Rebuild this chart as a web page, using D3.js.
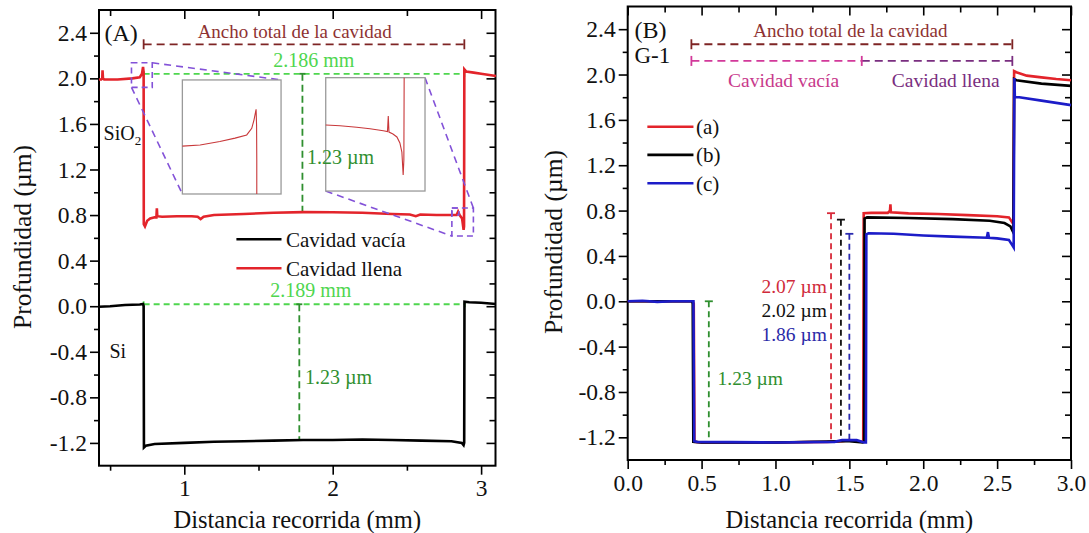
<!DOCTYPE html>
<html><head><meta charset="utf-8">
<script src="https://cdn.jsdelivr.net/npm/d3@7"></script>
<style>
body{margin:0;background:#fff}
svg text{font-family:"Liberation Serif",serif !important}
</style></head>
<body><svg id="c" width="1089" height="533"></svg>
<script>
// ---------------- DATA ----------------
// Panel A : Cavidad llena (red) and Cavidad vacía (black)
const distA_llena = [0.425,0.44,0.447,0.449,0.452,0.46,0.55,0.65,0.70,0.715,0.722,0.726,0.727,0.735,0.75,0.77,0.80,0.812,0.815,0.818,0.85,0.95,1.05,1.09,1.11,1.13,1.2,1.4,1.6,1.8,2.0,2.2,2.4,2.52,2.56,2.59,2.7,2.8,2.835,2.845,2.855,2.872,2.882,2.885,2.887,2.90,2.95,3.0,3.1];
const profA_llena = [1.99,1.99,2.00,2.07,2.00,1.99,1.99,2.00,2.01,2.04,2.10,2.05,0.72,0.70,0.75,0.77,0.78,0.78,0.86,0.79,0.785,0.79,0.79,0.785,0.765,0.785,0.80,0.81,0.82,0.826,0.825,0.82,0.81,0.805,0.79,0.805,0.80,0.80,0.80,0.83,0.80,0.77,0.67,0.70,2.08,2.06,2.05,2.04,2.02];
const distA_vacia = [0.425,0.5,0.6,0.7,0.722,0.726,0.728,0.74,0.8,1.0,1.2,1.4,1.6,1.8,2.0,2.2,2.4,2.6,2.8,2.87,2.882,2.886,2.888,2.92,3.0,3.1];
const profA_vacia = [-0.005,0.0,0.01,0.015,0.02,0.0,-1.24,-1.225,-1.21,-1.20,-1.19,-1.185,-1.18,-1.175,-1.175,-1.17,-1.175,-1.18,-1.185,-1.20,-1.22,-1.20,0.04,0.035,0.03,0.02];
// Insets (normalised zoom of the corners of the red curve)
const inset1X = [0,0.18,0.38,0.534,0.652,0.703,0.726,0.747,0.752,0.754,0.754];
const inset1Y = [0.42,0.43,0.46,0.49,0.518,0.576,0.65,0.743,0.60,0.3,0.0];
const inset2X = [0,0.144,0.312,0.446,0.58,0.622,0.63,0.637,0.677,0.717,0.747,0.767,0.78,0.787,0.79];
const inset2Y = [0.583,0.576,0.562,0.55,0.532,0.525,0.662,0.52,0.503,0.477,0.424,0.344,0.141,0.274,1.0];

// Panel B : series (a) red, (b) black, (c) blue
const distB_a = [0,0.2,0.44,0.447,0.452,0.5,1.0,1.35,1.45,1.5,1.55,1.59,1.594,1.597,1.65,1.76,1.775,1.778,1.781,1.9,2.1,2.3,2.5,2.58,2.6,2.61,2.615,2.63,2.7,2.8,2.9,3.0];
const profB_a = [0,0,0,-0.02,-1.24,-1.245,-1.245,-1.24,-1.235,-1.225,-1.235,-1.24,-1.23,0.777,0.78,0.78,0.80,0.855,0.785,0.775,0.77,0.76,0.75,0.74,0.70,0.72,2.03,2.02,1.99,1.975,1.96,1.95];
const distB_b = [0,0.2,0.435,0.44,0.444,0.5,1.0,1.44,1.5,1.59,1.6,1.603,1.62,1.9,2.2,2.45,2.55,2.59,2.605,2.61,2.615,2.63,2.8,3.0];
const profB_b = [0,0,0,-0.02,-1.24,-1.245,-1.245,-1.235,-1.235,-1.245,-1.24,0.73,0.74,0.735,0.725,0.71,0.69,0.66,0.62,0.65,1.96,1.95,1.92,1.90];
const distB_c = [0,0.1,0.2,0.3,0.445,0.45,0.47,1.0,1.4,1.45,1.55,1.6,1.612,1.615,1.63,1.8,2.0,2.2,2.43,2.438,2.445,2.5,2.58,2.6,2.612,2.617,2.62,2.65,2.8,3.0];
const profB_c = [0,0.005,-0.005,0,0,-1.235,-1.24,-1.245,-1.24,-1.225,-1.225,-1.245,-1.245,0.59,0.60,0.595,0.58,0.57,0.56,0.61,0.56,0.555,0.54,0.50,0.475,1.97,1.80,1.80,1.77,1.73];

// Step heights in panel B (x position, top value)
const stepB_x = [0.549,1.376,1.443,1.50];
const stepB_top = [0.0,0.777,0.72,0.595];
const stepB_labels = ["1.23 µm","2.07 µm","2.02 µm","1.86 µm"];

// Ticks
const yMajor = [-1.2,-0.8,-0.4,0,0.4,0.8,1.2,1.6,2.0,2.4];
const yMinor = [-1.0,-0.6,-0.2,0.2,0.6,1.0,1.4,1.8,2.2];
const yLabels = ["-1.2","-0.8","-0.4","0.0","0.4","0.8","1.2","1.6","2.0","2.4"];
const xMajorA = [1,2,3], xMinorA = [0.5,1.5,2.5], xLabelsA = ["1","2","3"];
const xMajorB = [0,0.5,1,1.5,2,2.5,3], xMinorB = [0.25,0.75,1.25,1.75,2.25,2.75];
const xLabelsB = ["0.0","0.5","1.0","1.5","2.0","2.5","3.0"];

// ---------------- DRAW ----------------
const svg = d3.select("#c");
const FONT = "'Liberation Serif', serif";
const zip = (xs, ys) => xs.map((v,i)=>[v, ys[i]]);

function panel(o){
  const x = d3.scaleLinear().domain(o.xDomain).range([o.left,o.right]);
  const y = d3.scaleLinear().domain([-1.4,2.6]).range([o.bottom,o.top]);
  const g = svg.append("g");
  const ax = (gen, tr) => {
    const a = g.append("g").attr("transform",tr).call(gen);
    a.attr("font-family",null);
    a.select(".domain").remove();
    a.selectAll("line").attr("stroke","#000").attr("stroke-width",1.6);
    a.selectAll("text").style("font-family",FONT).style("font-size","23.5px").attr("fill","#111");
    return a;
  };
  ax(d3.axisBottom(x).tickValues(o.xMajor).tickFormat((d,i)=>o.xLabels[i]).tickSize(9).tickPadding(5), `translate(0,${o.bottom})`);
  ax(d3.axisBottom(x).tickValues(o.xMinor).tickFormat("").tickSize(5), `translate(0,${o.bottom})`);
  ax(d3.axisTop(x).tickValues(o.xMajor).tickFormat("").tickSize(-9), `translate(0,${o.top})`);
  ax(d3.axisTop(x).tickValues(o.xMinor).tickFormat("").tickSize(-6), `translate(0,${o.top})`);
  ax(d3.axisLeft(y).tickValues(yMajor).tickFormat((d,i)=>yLabels[i]).tickSize(9).tickPadding(3), `translate(${o.left},0)`);
  ax(d3.axisLeft(y).tickValues(yMinor).tickFormat("").tickSize(5), `translate(${o.left},0)`);
  ax(d3.axisRight(y).tickValues(yMajor).tickFormat("").tickSize(-9), `translate(${o.right},0)`);
  ax(d3.axisRight(y).tickValues(yMinor).tickFormat("").tickSize(-6), `translate(${o.right},0)`);
  g.append("rect").attr("x",o.left).attr("y",o.top).attr("width",o.right-o.left).attr("height",o.bottom-o.top)
    .attr("fill","none").attr("stroke","#000").attr("stroke-width",2);
  txt(g,(o.left+o.right)/2,519,"Distancia recorrida (mm)",24.5,"#111","middle");
  g.append("text").attr("transform",`translate(${o.ytX},${o.ytY}) rotate(-90)`).attr("dy","0.35em").attr("text-anchor","middle")
    .style("font-family",FONT).style("font-size","25.5px").attr("fill","#111").text("Profundidad (µm)");
  return {x,y,g};
}

function txt(g, x, y, s, size, fill, anchor){
  return g.append("text").attr("x",x).attr("y",y).attr("dy","0.35em").attr("text-anchor",anchor||"start")
    .style("font-family",FONT).style("font-size",size+"px").attr("fill",fill).text(s);
}
function dline(g, x1,y1,x2,y2, color, w, dash){
  return g.append("line").attr("x1",x1).attr("y1",y1).attr("x2",x2).attr("y2",y2)
    .attr("stroke",color).attr("stroke-width",w).attr("stroke-dasharray",dash||null);
}
function hDim(g, X, Y, x0, x1, yv, color, dash, capH){
  dline(g, X(x0),Y(yv),X(x1),Y(yv),color,1.8,dash);
  dline(g, X(x0),Y(yv)-capH,X(x0),Y(yv)+capH,color,1.8);
  dline(g, X(x1),Y(yv)-capH,X(x1),Y(yv)+capH,color,1.8);
}
function vDim(g, X, Y, xv, y0, y1, color, dash, capW){
  dline(g, X(xv),Y(y0),X(xv),Y(y1),color,1.8,dash);
  dline(g, X(xv)-capW,Y(y0),X(xv)+capW,Y(y0),color,1.8);
}

// ===== Panel A =====
const A = panel({left:99,right:495.5,top:10,bottom:465.7,xDomain:[0.4252,3.097],
  xMajor:xMajorA,xMinor:xMinorA,xLabels:xLabelsA,ytX:22,ytY:237});
const lineA = d3.line().x(d=>A.x(d[0])).y(d=>A.y(d[1]));
const GREEN_L = "#4fd64f", GREEN_D = "#2f8f2f", DRED = "#7e2424", PURP = "#8352d8";

// annotations behind curves
hDim(A.g, A.x, A.y, 0.726, 2.887, 2.299, DRED, "8,5", 5);
txt(A.g, A.x(1.744), A.y(2.414), "Ancho total de la cavidad", 19, "#8e3232", "middle");
txt(A.g, A.x(0.574), A.y(2.40), "(A)", 24, "#111", "middle");
hDim(A.g, A.x, A.y, 0.726, 2.887, 2.04, GREEN_L, "6,4", 3);
txt(A.g, A.x(1.872), A.y(2.165), "2.186 mm", 20, GREEN_L, "middle");
hDim(A.g, A.x, A.y, 0.726, 2.89, 0.017, GREEN_L, "6,4", 3);
txt(A.g, A.x(1.853), A.y(0.142), "2.189 mm", 20, GREEN_L, "middle");
vDim(A.g, A.x, A.y, 1.796, 2.04, 0.826, GREEN_D, "7,4", 3);
vDim(A.g, A.x, A.y, 1.775, 0.017, -1.177, GREEN_D, "7,4", 3);
txt(A.g, A.x(1.813), A.y(-0.625), "1.23 µm", 20, GREEN_D, "start");
const sio = txt(A.g, A.x(0.456), A.y(1.52), "SiO", 20, "#111", "start");
sio.append("tspan").attr("dy","0.35em").style("font-size","13px").text("2");
txt(A.g, A.x(0.496), A.y(-0.39), "Si", 20, "#111", "start");

// curves
A.g.append("path").datum(zip(distA_vacia,profA_vacia)).attr("d",lineA).attr("fill","none").attr("stroke","#000").attr("stroke-width",2.6);
A.g.append("path").datum(zip(distA_llena,profA_llena)).attr("d",lineA).attr("fill","none").attr("stroke","#e3242b").attr("stroke-width",2.6);

// zoom boxes & connectors
function dashRect(g,x0,y0,x1,y1,color){
  g.append("rect").attr("x",Math.min(x0,x1)).attr("y",Math.min(y0,y1)).attr("width",Math.abs(x1-x0)).attr("height",Math.abs(y1-y0))
   .attr("fill","none").attr("stroke",color).attr("stroke-width",1.6).attr("stroke-dasharray","6,4");
}
dashRect(A.g, A.x(0.644),A.y(2.137),A.x(0.784),A.y(1.921),PURP);
dline(A.g, A.x(0.784),A.y(2.137),A.x(1.652),A.y(1.986),PURP,1.6,"7,5");
dline(A.g, A.x(0.644),A.y(1.921),A.x(0.987),A.y(0.985),PURP,1.6,"7,5");
dashRect(A.g, A.x(2.803),A.y(0.862),A.x(2.948),A.y(0.616),PURP);
dashRect(A.g, A.x(2.803),A.y(0.862),A.x(2.85),A.y(0.80),PURP);
dline(A.g, A.x(2.622),A.y(2.006),A.x(2.948),A.y(0.862),PURP,1.6,"7,5");
dline(A.g, A.x(1.953),A.y(1.011),A.x(2.803),A.y(0.616),PURP,1.6,"7,5");

function inset(g, bx0, bx1, by0, by1, xs, ys){
  const sx = d3.scaleLinear().domain([0,1]).range([A.x(bx0),A.x(bx1)]);
  const sy = d3.scaleLinear().domain([0,1]).range([A.y(by0),A.y(by1)]);
  g.append("rect").attr("x",sx(0)).attr("y",sy(1)).attr("width",sx(1)-sx(0)).attr("height",sy(0)-sy(1))
    .attr("fill","#fff").attr("stroke","#9a9a9a").attr("stroke-width",1.3);
  g.append("path").datum(zip(xs,ys)).attr("d",d3.line().x(d=>sx(d[0])).y(d=>sy(d[1])))
    .attr("fill","none").attr("stroke","#c8383a").attr("stroke-width",1.1);
}
inset(A.g, 0.987, 1.652, 0.985, 1.986, inset1X, inset1Y);
inset(A.g, 1.953, 2.622, 1.011, 2.006, inset2X, inset2Y);
// label drawn over the inset, as in the original
txt(A.g, A.x(1.827), A.y(1.31), "1.23 µm", 20, GREEN_D, "start");

// legend A
const legA = [["Cavidad vacía","#000",239.3],["Cavidad llena","#e3242b",268.3]];
legA.forEach(([s,c,py])=>{
  dline(A.g, 236.4, py, 281.5, py, c, 2.6);
  txt(A.g, 286, py, s, 21, "#111", "start");
});

// ===== Panel B =====
const B = panel({left:627.7,right:1071,top:6.5,bottom:460,xDomain:[0,3],
  xMajor:xMajorB,xMinor:xMinorB,xLabels:xLabelsB,ytX:553,ytY:242});
const lineB = d3.line().x(d=>B.x(d[0])).y(d=>B.y(d[1]));
const MAG = "#d2399a", PURB = "#7a2e80";
txt(B.g, B.x(0.046), B.y(2.393), "(B)", 24, "#111", "start");
txt(B.g, B.x(0.046), B.y(2.172), "G-1", 23, "#111", "start");
hDim(B.g, B.x, B.y, 0.431, 2.603, 2.267, DRED, "8,5", 5);
txt(B.g, B.x(1.507), B.y(2.393), "Ancho total de la cavidad", 19, "#8e3232", "middle");
dline(B.g, B.x(0.431),B.y(2.12),B.x(1.584),B.y(2.12),MAG,1.8,"8,5");
dline(B.g, B.x(1.584),B.y(2.12),B.x(2.603),B.y(2.12),PURB,1.8,"8,5");
dline(B.g, B.x(0.431),B.y(2.12)-5,B.x(0.431),B.y(2.12)+5,MAG,1.8);
dline(B.g, B.x(1.584),B.y(2.12)-5,B.x(1.584),B.y(2.12)+5,MAG,1.8);
dline(B.g, B.x(2.603),B.y(2.12)-5,B.x(2.603),B.y(2.12)+5,PURB,1.8);
txt(B.g, B.x(1.055), B.y(1.952), "Cavidad vacía", 19.5, "#c83a8c", "middle");
txt(B.g, B.x(2.152), B.y(1.952), "Cavidad llena", 19.5, PURB, "middle");

const stepColors = [GREEN_D,"#d82a3a","#111","#2a2ab0"];
stepB_x.forEach((xv,i)=> vDim(B.g, B.x, B.y, xv, stepB_top[i], -1.24, stepColors[i], "6,4", 4));
txt(B.g, B.x(0.608), B.y(-0.678), stepB_labels[0], 19.5, GREEN_D, "start");
const labY = [0.135,-0.076,-0.288];
[1,2,3].forEach((k,j)=> txt(B.g, B.x(1.348), B.y(labY[j]), stepB_labels[k], 19.5, ["#d02a3a","#111","#2a2aa8"][j], "end"));

const seriesB = [[distB_a,profB_a,"#e3242b","(a)"],[distB_b,profB_b,"#000","(b)"],[distB_c,profB_c,"#1c1cc8","(c)"]];
seriesB.forEach(([xs,ys,c])=> B.g.append("path").datum(zip(xs,ys)).attr("d",lineB).attr("fill","none").attr("stroke",c).attr("stroke-width",2.6));
const legY = [1.54,1.291,1.041];
seriesB.forEach(([xs,ys,c,s],i)=>{
  dline(B.g, B.x(0.133),B.y(legY[i]),B.x(0.445),B.y(legY[i]),c,2.6);
  txt(B.g, B.x(0.462), B.y(legY[i]), s, 21, "#111", "start");
});
</script></body></html>
